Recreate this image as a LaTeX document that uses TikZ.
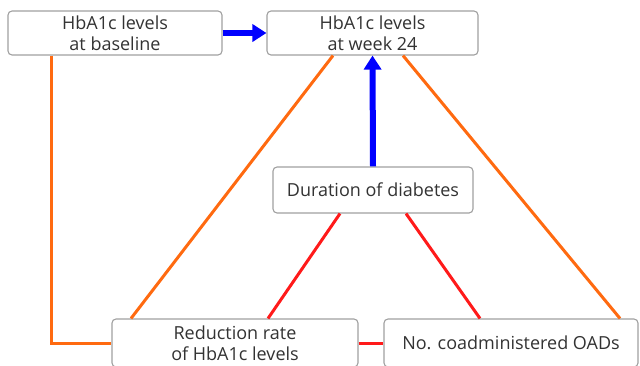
\documentclass[tikz,border=0pt]{standalone}
\usepackage{fontspec}
\setmainfont{Open Sans}
\usetikzlibrary{arrows.meta}
\definecolor{boxline}{HTML}{A0A0A0}
\definecolor{txt}{HTML}{333333}
\definecolor{orng}{HTML}{FF6A10}
\definecolor{rd}{HTML}{FF1A1A}
\definecolor{blu}{HTML}{0000FF}
\tikzset{
  box/.style={draw=boxline, line width=1.1pt, rounded corners=4pt, fill=white,
    text=txt, align=center, font=\fontsize{18}{20.5}\selectfont, inner sep=0pt},
  oline/.style={draw=orng, line width=3pt},
  rline/.style={draw=rd, line width=3pt},
  barrow/.style={draw=blu, line width=6pt, -{Triangle[length=14pt,width=17pt]}},
}
\begin{document}
\begin{tikzpicture}[x=1pt,y=-1pt]
\useasboundingbox (0,0) rectangle (640,365);
\clip (0,0) rectangle (640,365);
\node[box, minimum width=214pt, minimum height=44pt] (b1) at (115,33) {HbA1c levels\\at baseline};
\node[box, minimum width=211pt, minimum height=44pt] (b2) at (372.5,33) {HbA1c levels\\at week 24};
\node[box, minimum width=200pt, minimum height=46pt] (b3) at (373,190) {Duration of diabetes};
\node[box, minimum width=246pt, minimum height=48pt] (b4) at (235,343) {Reduction rate\\of HbA1c levels};
\node[box, minimum width=254pt, minimum height=48pt] (b5) at (511,343) {No. coadministered OADs};
\draw[oline] ([xshift=-64pt]b1.south) |- (b4.west);
\draw[oline] ([xshift=-39.5pt]b2.south) -- ([xshift=-104pt]b4.north);
\draw[oline] ([xshift=30.5pt]b2.south) -- ([xshift=109pt]b5.north);
\draw[rline] ([xshift=-33pt]b3.south) -- ([xshift=33pt]b4.north);
\draw[rline] ([xshift=33pt]b3.south) -- ([xshift=-31pt]b5.north);
\draw[rline] (b4.east) -- (b5.west);
\draw[barrow] (b1.east) -- (b2.west);
\draw[barrow] (b3.north) -- (b2.south);
\end{tikzpicture}
\end{document}
